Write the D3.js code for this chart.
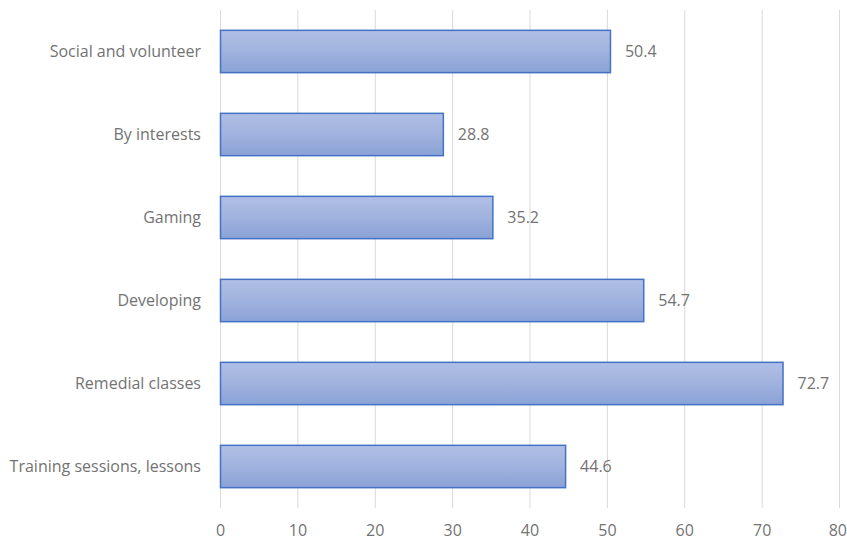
<!DOCTYPE html>
<html>
<head>
<meta charset="utf-8">
<script src="https://cdn.jsdelivr.net/npm/d3@7"></script>
<style>
  body { margin: 0; background: #fff; }
  svg text { font-family: "Open Sans", sans-serif; fill: #737373; }
</style>
</head>
<body>
<svg width="847" height="542"></svg>
<script>
// chart data, top to bottom
var categories = ["Social and volunteer", "By interests", "Gaming", "Developing", "Remedial classes", "Training sessions, lessons"];
var values = [50.4, 28.8, 35.2, 54.7, 72.7, 44.6];
var xTicks = [0, 10, 20, 30, 40, 50, 60, 70, 80];

var svg = d3.select("svg");
var margin = { top: 10, right: 8, bottom: 34, left: 220 },
  width = +svg.attr("width") - margin.left - margin.right,
  height = +svg.attr("height") - margin.top - margin.bottom;

var g = svg.append("g")
  .attr("transform", "translate(" + margin.left + "," + margin.top + ")");

var x = d3.scaleLinear().domain([0, 80]).range([0, width]);
var y = d3.scaleBand().domain(categories).range([0, height]).paddingInner(0.49).paddingOuter(0.245);

var defs = svg.append("defs");
var grad = defs.append("linearGradient").attr("id", "barGrad")
  .attr("x1", 0).attr("y1", 0).attr("x2", 0).attr("y2", 1);
grad.append("stop").attr("offset", "0%").attr("stop-color", "#b0bfe4");
grad.append("stop").attr("offset", "50%").attr("stop-color", "#a0b2de");
grad.append("stop").attr("offset", "100%").attr("stop-color", "#8aa2d6");

// vertical gridlines
g.append("g").selectAll("line")
  .data(xTicks)
  .enter().append("line")
  .attr("x1", d => x(d) + 0.5).attr("x2", d => x(d) + 0.5)
  .attr("y1", 0).attr("y2", height)
  .attr("stroke", "#d9d9d9").attr("stroke-width", 1);

// x axis labels
var xAxis = g.append("g")
  .attr("transform", "translate(0," + height + ")")
  .call(d3.axisBottom(x).tickValues(xTicks).tickSize(0).tickPadding(17));
xAxis.select(".domain").remove();
xAxis.selectAll("text").style("font-size", "16px").attr("fill", "#737373");
// last label sits at the window edge, keep it inside
xAxis.selectAll(".tick").filter(d => d === xTicks[xTicks.length - 1]).select("text")
  .attr("text-anchor", "end").attr("x", margin.right - 0.5);

// bars
var bars = d3.zip(categories, values);
g.append("g").selectAll("rect")
  .data(bars)
  .enter().append("rect")
  .attr("x", x(0) + 0.5)
  .attr("y", d => y(d[0]))
  .attr("width", d => x(d[1]) - x(0))
  .attr("height", y.bandwidth())
  .attr("fill", "url(#barGrad)")
  .attr("stroke", "#4472c4")
  .attr("stroke-width", 1.5);

// value labels
g.append("g").selectAll("text")
  .data(bars)
  .enter().append("text")
  .attr("x", d => x(d[1]) + 15)
  .attr("y", d => y(d[0]) + y.bandwidth() / 2)
  .attr("dy", "0.35em")
  .style("font-size", "16px")
  .text(d => d[1]);

// category labels
var yAxis = g.append("g")
  .call(d3.axisLeft(y).tickSize(0).tickPadding(19));
yAxis.select(".domain").remove();
yAxis.selectAll("text").style("font-size", "16px").attr("fill", "#737373");
</script>
</body>
</html>
